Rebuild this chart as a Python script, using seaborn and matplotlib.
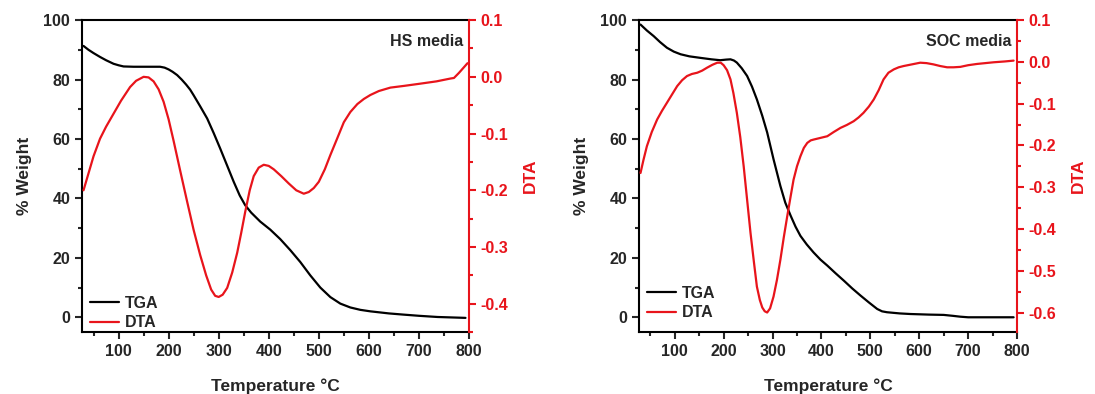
import numpy as np
import pandas as pd
import matplotlib
matplotlib.use("Agg")
import matplotlib.pyplot as plt
from matplotlib.lines import Line2D
from matplotlib.ticker import MultipleLocator
import seaborn as sns

# ---- HS media ----
hs_tga_t = [30, 40, 50, 63, 75, 90, 100, 110, 130, 150, 183, 192, 200, 208, 217, 226, 235, 243,
            250, 263, 277, 290, 303, 317, 330, 342, 353, 365, 383, 403, 423, 443, 463, 483, 503,
            523, 543, 563, 583, 603, 640, 669, 700, 737, 793]
hs_tga_w = [91.3, 90.0, 88.9, 87.6, 86.5, 85.3, 84.8, 84.4, 84.3, 84.3, 84.3, 84.0, 83.4, 82.6,
            81.5, 80.0, 78.3, 76.6, 74.7, 71.0, 66.9, 62.0, 56.8, 51.0, 45.6, 41.0, 37.7, 35.2,
            32.2, 29.5, 26.3, 22.6, 18.6, 14.1, 10.0, 6.8, 4.6, 3.3, 2.5, 2.0, 1.3, 0.9, 0.5,
            0.1, -0.2]
hs_dta_t = [30, 40, 50, 63, 75, 90, 105, 123, 135, 150, 160, 170, 180, 190, 200, 210, 223, 237,
            250, 263, 275, 285, 293, 300, 308, 317, 327, 337, 345, 353, 362, 370, 380, 390, 400,
            410, 425, 440, 455, 470, 480, 490, 500, 512, 523, 537, 550, 563, 577, 590, 603, 620,
            643, 670, 703, 735, 763, 770, 780, 797]
hs_dta_v = [-0.200, -0.170, -0.140, -0.109, -0.088, -0.065, -0.042, -0.018, -0.007, 0.000,
            -0.001, -0.008, -0.022, -0.044, -0.075, -0.113, -0.165, -0.220, -0.270, -0.314,
            -0.350, -0.375, -0.386, -0.388, -0.384, -0.372, -0.345, -0.310, -0.275, -0.238,
            -0.200, -0.175, -0.160, -0.155, -0.157, -0.163, -0.175, -0.188, -0.200, -0.206,
            -0.203, -0.196, -0.185, -0.163, -0.138, -0.108, -0.080, -0.062, -0.048, -0.039,
            -0.032, -0.025, -0.019, -0.016, -0.012, -0.008, -0.003, -0.002, 0.007, 0.024]

# ---- SOC media ----
soc_tga_t = [30, 43, 57, 70, 84, 98, 112, 130, 152, 175, 193, 205, 214, 221, 227, 237, 248, 258,
             268, 279, 289, 302, 316, 326, 337, 347, 357, 370, 384, 398, 412, 429, 446, 463, 480,
             497, 514, 524, 534, 560, 582, 620, 650, 668, 684, 700, 793]
soc_tga_w = [98.5, 96.5, 94.6, 92.6, 90.7, 89.4, 88.5, 87.8, 87.3, 86.8, 86.5, 86.7, 86.8, 86.4,
             85.7, 83.8, 81.2, 77.6, 73.3, 67.8, 62.2, 53.2, 44.2, 38.6, 34.2, 30.5, 27.4, 24.5,
             21.8, 19.4, 17.4, 14.8, 12.3, 9.7, 7.3, 5.0, 2.8, 2.0, 1.7, 1.3, 1.1, 0.9, 0.8, 0.5,
             0.2, 0.0, 0.0]
soc_dta_t = [30, 36, 43, 53, 64, 74, 84, 95, 105, 115, 125, 135, 146, 156, 166, 177, 187, 194,
             200, 207, 214, 220, 227, 234, 241, 248, 255, 262, 268, 274, 279, 284, 289, 295, 302,
             309, 316, 323, 330, 337, 343, 350, 357, 364, 371, 378, 384, 398, 412, 425, 439, 452,
             466, 476, 486, 497, 507, 517, 527, 537, 548, 558, 568, 585, 602, 615, 629, 643, 657,
             670, 684, 700, 718, 735, 752, 775, 793]
soc_dta_v = [-0.266, -0.235, -0.202, -0.168, -0.138, -0.117, -0.098, -0.077, -0.058, -0.044,
             -0.034, -0.029, -0.026, -0.021, -0.014, -0.007, -0.002, -0.002, -0.008, -0.020,
             -0.042, -0.075, -0.122, -0.180, -0.250, -0.330, -0.410, -0.480, -0.538, -0.570,
             -0.588, -0.597, -0.600, -0.590, -0.562, -0.522, -0.474, -0.420, -0.370, -0.322,
             -0.282, -0.250, -0.226, -0.206, -0.194, -0.188, -0.186, -0.182, -0.178, -0.168,
             -0.158, -0.151, -0.142, -0.133, -0.122, -0.107, -0.090, -0.068, -0.042, -0.026,
             -0.018, -0.013, -0.010, -0.006, -0.002, -0.003, -0.006, -0.010, -0.013, -0.013,
             -0.012, -0.008, -0.005, -0.003, -0.001, 0.001, 0.003]

panels = [
    dict(name="HS media", tga_t=hs_tga_t, tga_w=hs_tga_w, dta_t=hs_dta_t, dta_v=hs_dta_v,
         dta_lim=(-0.45, 0.1), dta_ticks=[-0.4, -0.3, -0.2, -0.1, 0.0, 0.1],
         rect=[0.0749, 0.157, 0.3534, 0.792], legend_y=-0.02),
    dict(name="SOC media", tga_t=soc_tga_t, tga_w=soc_tga_w, dta_t=soc_dta_t, dta_v=soc_dta_v,
         dta_lim=(-0.647, 0.1), dta_ticks=[-0.6, -0.5, -0.4, -0.3, -0.2, -0.1, 0.0, 0.1],
         rect=[0.5836, 0.157, 0.3452, 0.792], legend_y=0.012),
]

sns.set_style("ticks")
plt.rcParams["font.family"] = ["Liberation Sans", "DejaVu Sans"]
plt.rcParams["font.weight"] = "bold"

RED = "#e8141b"
FS = 11.5
FS_LABEL = 12.5

fig = plt.figure(figsize=(10.95, 3.94), dpi=100)

for p in panels:
    ax = fig.add_axes(p["rect"])
    ax2 = ax.twinx()
    tga = pd.DataFrame({"t": p["tga_t"], "w": p["tga_w"]})
    dta = pd.DataFrame({"t": p["dta_t"], "v": p["dta_v"]})
    sns.lineplot(data=tga, x="t", y="w", ax=ax, color="black", lw=1.6, sort=False)
    sns.lineplot(data=dta, x="t", y="v", ax=ax2, color=RED, lw=1.6, sort=False)

    ax.set_xlim(27, 800)
    ax.set_ylim(-5, 100)
    ax.xaxis.set_major_locator(MultipleLocator(100))
    ax.xaxis.set_minor_locator(MultipleLocator(50))
    ax.yaxis.set_major_locator(MultipleLocator(20))
    ax.yaxis.set_minor_locator(MultipleLocator(10))
    ax.set_xticks([100, 200, 300, 400, 500, 600, 700, 800])
    ax.set_xlabel("Temperature °C", fontsize=FS_LABEL, fontweight="bold", labelpad=14)
    ax.set_ylabel("% Weight", fontsize=FS_LABEL, fontweight="bold", labelpad=8)
    ax.tick_params(axis="both", which="major", length=5, width=1.5, labelsize=FS, direction="out")
    ax.tick_params(axis="both", which="minor", length=3, width=1.5, direction="out")
    for lab in ax.get_xticklabels() + ax.get_yticklabels():
        lab.set_fontweight("bold")

    ax2.set_ylim(*p["dta_lim"])
    ax2.set_yticks(p["dta_ticks"])
    ax2.set_yticklabels([f"{v:.1f}" for v in p["dta_ticks"]])
    ax2.yaxis.set_minor_locator(MultipleLocator(0.05))
    ax2.set_xlabel("")
    ax2.set_ylabel("DTA", color=RED, fontsize=FS_LABEL, fontweight="bold", rotation=90, labelpad=10)
    ax2.tick_params(axis="y", which="major", length=5, width=1.5, colors=RED, labelsize=FS)
    ax2.tick_params(axis="y", which="minor", length=3, width=1.5, colors=RED)
    for lab in ax2.get_yticklabels():
        lab.set_fontweight("bold")

    for s in ["left", "bottom", "top"]:
        ax.spines[s].set_visible(True)
        ax.spines[s].set_linewidth(1.5)
        ax.spines[s].set_color("black")
        ax2.spines[s].set_visible(False)
    ax.spines["right"].set_visible(False)
    ax2.spines["right"].set_visible(True)
    ax2.spines["right"].set_linewidth(1.5)
    ax2.spines["right"].set_color(RED)

    ax.text(0.985, 0.93, p["name"], transform=ax.transAxes, ha="right", va="center",
            fontsize=FS, fontweight="bold")

    handles = [Line2D([], [], color="black", lw=1.6), Line2D([], [], color=RED, lw=1.6)]
    ax.legend(handles, ["TGA", "DTA"], loc="lower left", bbox_to_anchor=(0.0, p["legend_y"]),
              frameon=False, handlelength=1.8, handletextpad=0.4,
              labelspacing=0.3, borderaxespad=0.3, borderpad=0.2,
              prop={"weight": "bold", "size": FS})

fig.savefig("out.png", dpi=100)
